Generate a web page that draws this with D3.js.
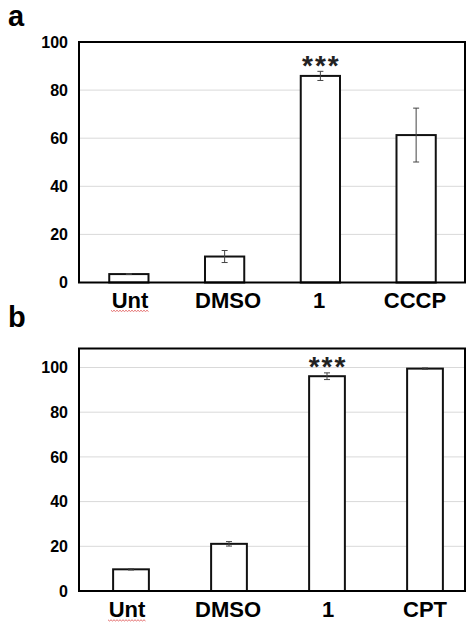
<!DOCTYPE html>
<html><head><meta charset="utf-8">
<script src="https://cdn.jsdelivr.net/npm/d3@7"></script>
<style>body{margin:0;background:#fff;}svg{display:block;font-family:Arial,"Liberation Sans",sans-serif;}</style>
</head><body>
<svg id="c" width="475" height="630"></svg>
<script>
// ---- data ----
const categoriesA = ["Unt", "DMSO", "1", "CCCP"];
const valuesA = [3.5, 10.8, 85.9, 61.3];
const errorsA = [0.2, 2.5, 1.9, 11.2];
const sigA = ["", "", "***", ""];
const ticksA = [0, 20, 40, 60, 80, 100];

const categoriesB = ["Unt", "DMSO", "1", "CPT"];
const valuesB = [9.7, 21.1, 96.1, 99.5];
const errorsB = [0.3, 1.0, 1.5, 0.3];
const sigB = ["", "", "***", ""];
const ticksB = [0, 20, 40, 60, 80, 100];

const svg = d3.select("#c");

function panel(cfg) {
  const g = svg.append("g");
  const y = d3.scaleLinear().domain([0, cfg.ymax]).range([cfg.bottom, cfg.top]);
  const x = d3.scaleBand().domain(cfg.cats).range(cfg.xrange).paddingInner(cfg.pad).paddingOuter(cfg.pad / 2);

  // gridlines
  g.append("g").selectAll("line").data(cfg.ticks.filter(t => t > 0 && y(t) > cfg.top + 1)).join("line")
    .attr("x1", cfg.left).attr("x2", cfg.right)
    .attr("y1", d => y(d)).attr("y2", d => y(d))
    .attr("stroke", "#d9d9d9").attr("stroke-width", 1);

  // y axis labels
  const ax = d3.axisLeft(y).tickValues(cfg.ticks).tickSize(0).tickPadding(11);
  const ag = g.append("g").attr("transform", `translate(${cfg.left},0)`).call(ax);
  ag.select(".domain").remove();
  ag.selectAll("text").attr("font-size", 16).attr("font-weight", "bold")
    .attr("font-family", "Arial, 'Liberation Sans', sans-serif").attr("fill", "#000");

  // bars
  g.append("g").selectAll("rect").data(cfg.vals).join("rect")
    .attr("x", (d, i) => x(cfg.cats[i]))
    .attr("width", x.bandwidth())
    .attr("y", d => y(d))
    .attr("height", d => cfg.bottom - y(d))
    .attr("fill", "#fff").attr("stroke", "#111").attr("stroke-width", 2);

  // error bars
  const eg = g.append("g").attr("stroke", "#444").attr("stroke-width", 1);
  cfg.vals.forEach((v, i) => {
    const cx = x(cfg.cats[i]) + x.bandwidth() / 2;
    const e = cfg.errs[i];
    const y1 = y(v + e), y2 = y(Math.max(0, v - e));
    eg.append("line").attr("x1", cx).attr("x2", cx).attr("y1", y1).attr("y2", y2);
    eg.append("line").attr("x1", cx - 3).attr("x2", cx + 3).attr("y1", y1).attr("y2", y1);
    eg.append("line").attr("x1", cx - 3).attr("x2", cx + 3).attr("y1", y2).attr("y2", y2);
  });

  // significance
  g.append("g").selectAll("text").data(cfg.sig).join("text")
    .attr("x", (d, i) => x(cfg.cats[i]) + x.bandwidth() / 2 + 1)
    .attr("y", (d, i) => y(cfg.vals[i] + cfg.errs[i]) + cfg.sigDy)
    .attr("text-anchor", "middle").attr("font-size", 28).attr("font-weight", "bold")
    .attr("letter-spacing", 2)
    .attr("fill", "#222").text(d => d);

  // frame
  g.append("rect").attr("x", cfg.left).attr("y", cfg.top)
    .attr("width", cfg.right - cfg.left).attr("height", cfg.bottom - cfg.top)
    .attr("fill", "none").attr("stroke", "#000").attr("stroke-width", 2);

  // category labels
  g.append("g").selectAll("text").data(cfg.cats).join("text")
    .attr("x", (d, i) => cfg.labelX[i])
    .attr("y", cfg.labelY)
    .attr("text-anchor", "middle").attr("font-size", 22).attr("font-weight", "bold")
    .attr("fill", "#000").text(d => d);

  // spell-check squiggle under "Unt"
  const sx0 = cfg.labelX[0] - 19, sx1 = cfg.labelX[0] + 19, sy = cfg.labelY + 3;
  const pts = [];
  for (let xx = sx0, k = 0; xx <= sx1; xx += 1.5, k++) pts.push([xx, sy + (k % 2 ? 1 : -0.2)]);
  g.append("path").attr("d", d3.line()(pts)).attr("fill", "none")
    .attr("stroke", "#e06060").attr("stroke-width", 0.9);

  // panel letter
  g.append("text").attr("x", 8).attr("y", cfg.letterY).attr("font-size", 29)
    .attr("font-weight", "bold").attr("fill", "#000").text(cfg.letter);
}

panel({cats: categoriesA, vals: valuesA, errs: errorsA, sig: sigA, ticks: ticksA,
  ymax: 100, top: 42, bottom: 282.5, left: 79, right: 465, xrange: [81, 464], pad: 0.59,
  labelX: [130, 228, 319, 415], labelY: 307.5, letter: "a", letterY: 25.5, sigDy: 4});

panel({cats: categoriesB, vals: valuesB, errs: errorsB, sig: sigB, ticks: ticksB,
  ymax: 108.5, top: 348.5, bottom: 591, left: 79, right: 465, xrange: [82, 474], pad: 0.635,
  labelX: [127, 228, 328, 425], labelY: 617, letter: "b", letterY: 327, sigDy: 3.5});
</script>
</body></html>
